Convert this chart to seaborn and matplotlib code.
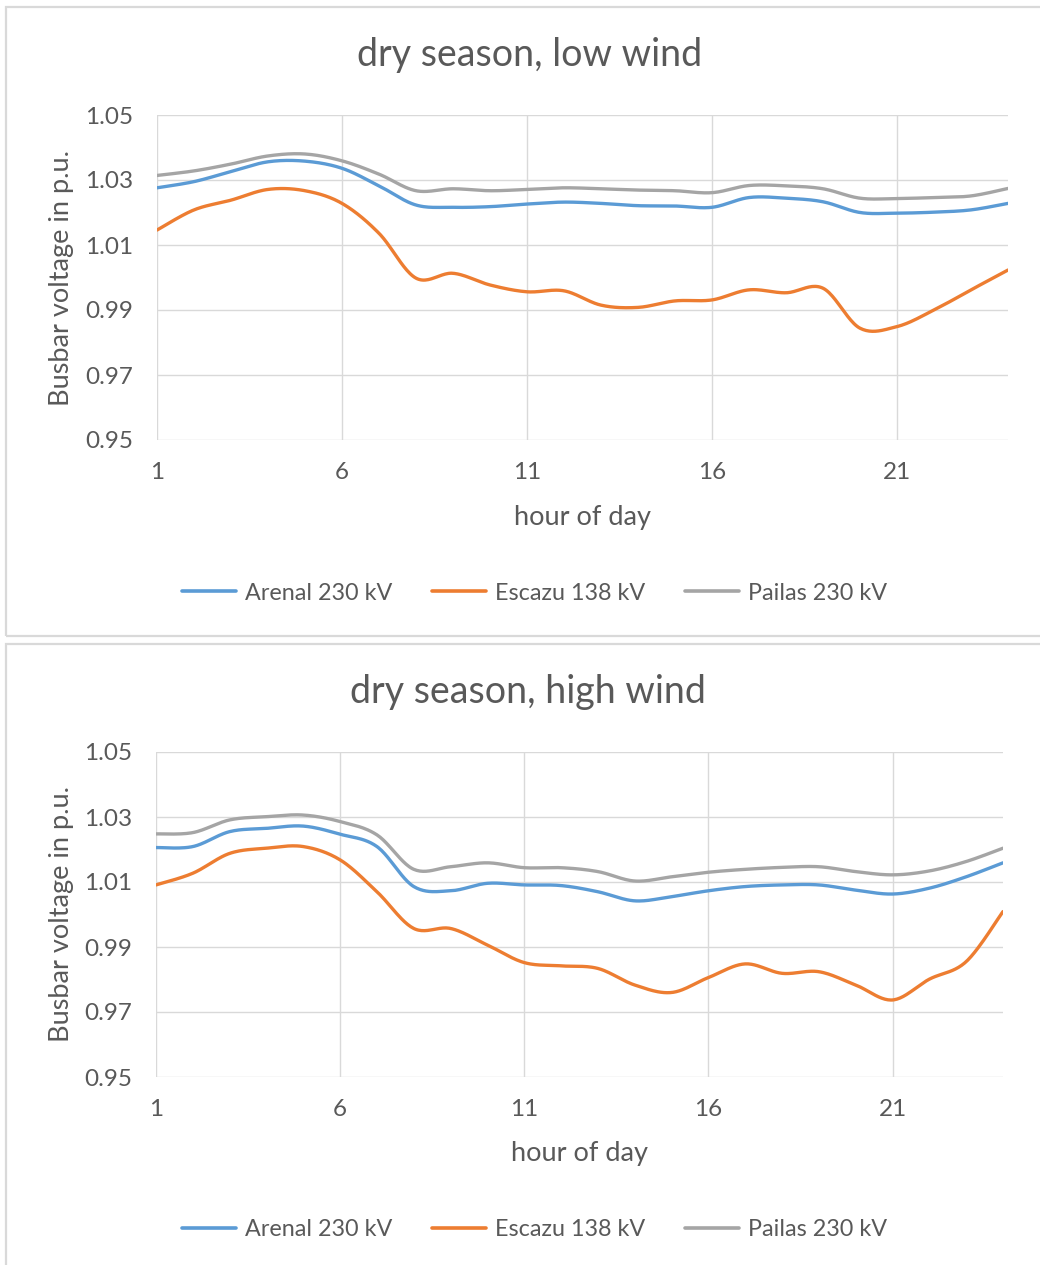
import numpy as np
import pandas as pd
import matplotlib
matplotlib.use("Agg")
import matplotlib.pyplot as plt
from matplotlib.patches import Rectangle
from matplotlib.lines import Line2D
import seaborn as sns

# ---- data -------------------------------------------------------------
hours = list(range(1, 25))
series_names = ["Arenal 230 kV", "Escazu 138 kV", "Pailas 230 kV"]

low_arenal = [1.0276, 1.0295, 1.0326, 1.0356, 1.0358, 1.0336, 1.0282, 1.0223,
              1.0216, 1.0218, 1.0226, 1.0232, 1.0228, 1.0221, 1.0220, 1.0216,
              1.0246, 1.0244, 1.0233, 1.0200, 1.0198, 1.0201, 1.0208, 1.0228]
low_escazu = [1.0146, 1.0208, 1.0238, 1.0271, 1.0267, 1.0228, 1.0136, 0.9998,
              1.0013, 0.9977, 0.9956, 0.9959, 0.9915, 0.9908, 0.9928, 0.9931,
              0.9962, 0.9953, 0.9967, 0.9844, 0.9849, 0.9900, 0.9962, 1.0023]
low_pailas = [1.0314, 1.0328, 1.0349, 1.0374, 1.0380, 1.0359, 1.0318, 1.0267,
              1.0273, 1.0267, 1.0271, 1.0276, 1.0273, 1.0269, 1.0267, 1.0261,
              1.0283, 1.0282, 1.0273, 1.0244, 1.0243, 1.0246, 1.0251, 1.0274]

high_arenal = [1.0206, 1.0209, 1.0255, 1.0265, 1.0272, 1.0247, 1.0209, 1.0086,
               1.0073, 1.0096, 1.0091, 1.0089, 1.0070, 1.0042, 1.0055, 1.0073,
               1.0086, 1.0091, 1.0091, 1.0075, 1.0063, 1.0081, 1.0116, 1.0159]
high_escazu = [1.0091, 1.0127, 1.0188, 1.0204, 1.0209, 1.0168, 1.0070, 0.9957,
               0.9957, 0.9906, 0.9852, 0.9842, 0.9834, 0.9783, 0.9760, 0.9806,
               0.9848, 0.9819, 0.9824, 0.9783, 0.9737, 0.9801, 0.9855, 1.0009]
high_pailas = [1.0248, 1.0252, 1.0291, 1.0301, 1.0306, 1.0286, 1.0245, 1.0139,
               1.0147, 1.0159, 1.0144, 1.0144, 1.0132, 1.0103, 1.0116, 1.0130,
               1.0139, 1.0145, 1.0147, 1.0132, 1.0122, 1.0134, 1.0163, 1.0204]

titles = ["dry season, low wind", "dry season, high wind"]
y_ticks = [0.95, 0.97, 0.99, 1.01, 1.03, 1.05]
x_ticks = [1, 6, 11, 16, 21]
x_label = "hour of day"
y_label = "Busbar voltage in p.u."

colors = ["#5B9BD5", "#ED7D31", "#A5A5A5"]
grid_color = "#D9D9D9"
text_color = "#595959"


def smooth(x, y, n=24):
    """Smoothed line through the points (cubic Bezier / Catmull-Rom style)."""
    x = np.asarray(x, float)
    y = np.asarray(y, float)
    px = np.concatenate([[x[0]], x, [x[-1]]])
    py = np.concatenate([[y[0]], y, [y[-1]]])
    xs, ys = [], []
    t = np.linspace(0, 1, n, endpoint=False)
    for i in range(1, len(px) - 2):
        p0 = np.array([px[i], py[i]])
        p3 = np.array([px[i + 1], py[i + 1]])
        c1 = p0 + (p3 - np.array([px[i - 1], py[i - 1]])) / 6.0
        c2 = p3 - (np.array([px[i + 2], py[i + 2]]) - p0) / 6.0
        b = ((1 - t) ** 3)[:, None] * p0 + (3 * (1 - t) ** 2 * t)[:, None] * c1 \
            + (3 * (1 - t) * t ** 2)[:, None] * c2 + (t ** 3)[:, None] * p3
        xs.append(b[:, 0])
        ys.append(b[:, 1])
    xs.append([x[-1]])
    ys.append([y[-1]])
    return np.concatenate(xs), np.concatenate(ys)


def build_frame(values):
    frames = []
    for name, vals in zip(series_names, values):
        sx, sy = smooth(hours, vals)
        frames.append(pd.DataFrame({"hour": sx, "voltage": sy, "bus": name}))
    return pd.concat(frames, ignore_index=True)


panels = [
    build_frame([low_arenal, low_escazu, low_pailas]),
    build_frame([high_arenal, high_escazu, high_pailas]),
]

sns.set_theme(style="white")
plt.rcParams["font.family"] = ["Lato", "DejaVu Sans"]

W, H = 1040, 1265
fig = plt.figure(figsize=(W / 100, H / 100), dpi=100)
fig.patch.set_facecolor("white")

# layout in pixels: (left, right, top, bottom) of the plot area
areas = [(157, 1008, 115, 440), (156, 1003, 752, 1077)]
frames_px = [(6, 7, 1060, 636), (6, 644, 1060, 1290)]
title_pos = [(530, 55), (528, 692)]
xlabel_y = [517, 1153]
legend_y = [593, 1230]

for k in range(2):
    # chart frame
    fx0, fy0, fx1, fy1 = frames_px[k]
    fig.patches.append(Rectangle((fx0 / W, 1 - fy1 / H), (fx1 - fx0) / W, (fy1 - fy0) / H,
                                 transform=fig.transFigure, fill=False,
                                 edgecolor=grid_color, linewidth=1.6, zorder=0))

    l, r, t, b = areas[k]
    ax = fig.add_axes([l / W, 1 - b / H, (r - l) / W, (b - t) / H])
    sns.lineplot(data=panels[k], x="hour", y="voltage", hue="bus",
                 hue_order=series_names, palette=colors, sort=False,
                 estimator=None, linewidth=2.4, legend=False, ax=ax, zorder=3)
    ax.set_xlim(1, 24)
    ax.set_ylim(0.95, 1.05)
    ax.set_yticks(y_ticks)
    ax.set_yticklabels([f"{v:.2f}" for v in y_ticks])
    ax.set_xticks(x_ticks)
    ax.set_xticklabels([str(v) for v in x_ticks])
    ax.grid(True, color=grid_color, linewidth=1.0)
    for s in ax.spines.values():
        s.set_visible(False)
    ax.tick_params(axis="both", length=0, labelsize=17.5, colors=text_color)
    ax.tick_params(axis="y", pad=17)
    ax.tick_params(axis="x", pad=16)
    ax.set_xlabel("")
    ax.set_ylabel("")

    tx, ty = title_pos[k]
    fig.text(tx / W, 1 - ty / H, titles[k], ha="center",
             va="center", fontsize=27, color=text_color)
    fig.text((l + r) / 2 / W, 1 - xlabel_y[k] / H, x_label, ha="center",
             va="center", fontsize=19.5, color=text_color)
    fig.text(62 / W, 1 - (t + b) / 2 / H, y_label, ha="center", va="center",
             rotation=90, fontsize=19.5, color=text_color)

    handles = [Line2D([], [], color=c, linewidth=2.6) for c in colors]
    fig.legend(handles, series_names, loc="center", ncol=3,
               bbox_to_anchor=(535 / W, 1 - legend_y[k] / H), frameon=False,
               fontsize=16.8, labelcolor=text_color, handlelength=2.3,
               handletextpad=0.4, columnspacing=1.7)

fig.savefig("out.png", dpi=100, facecolor="white")
